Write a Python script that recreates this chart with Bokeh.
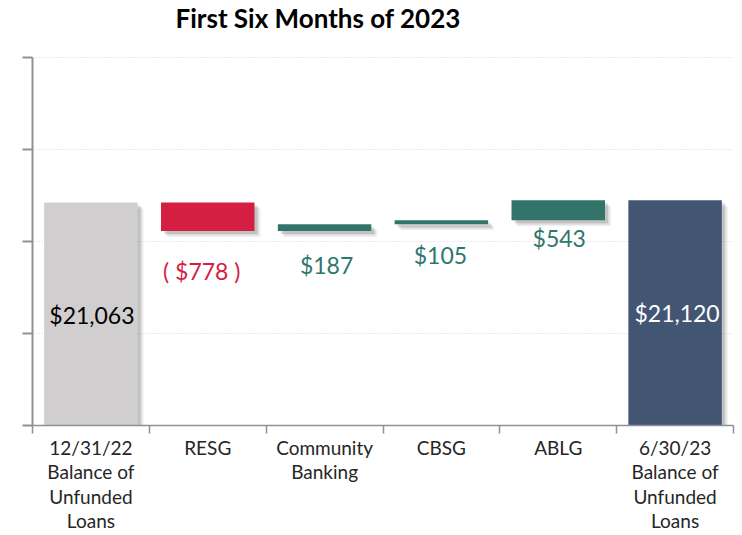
from bokeh.plotting import figure
from bokeh.models import ColumnDataSource, FixedTicker, Range1d
from bokeh.embed import file_html
from bokeh.resources import INLINE
from bokeh.core.properties import value

# ---- data ----
categories = ["12/31/22\nBalance of\nUnfunded\nLoans", "RESG", "Community\nBanking",
              "CBSG", "ABLG", "6/30/23\nBalance of\nUnfunded\nLoans"]
start_balance = 21063
changes = [-778, 187, 105, 543]
end_balance = 21120
value_labels = ["$21,063", "( $778 )", "$187", "$105", "$543", "$21,120"]
y_ticks = [15000, 17500, 20000, 22500, 25000]
title_text = "First Six Months of 2023"

# ---- styles ----
GRAY = "#D0CECE"
RED = "#D41E42"
GREEN = "#32736A"
NAVY = "#425674"
AXIS = "#8E9199"
FONT = "Lato"
label_colors = ["#000000", RED, "#2F766C", "#2F766C", "#2F766C", "#FFFFFF"]
label_y_off = [1, 40, 34, 31, 18, 0]
label_x_off = [1, -6, 2, -1, 1, 2]

y_min, y_max = y_ticks[0], y_ticks[-1]

# waterfall geometry from the values
bottoms, tops, colors = [], [], []
bottoms.append(0); tops.append(start_balance); colors.append(GRAY)
level = start_balance
for c in changes:
    new = level + c
    bottoms.append(min(level, new)); tops.append(max(level, new))
    colors.append(RED if c < 0 else GREEN)
    level = new
bottoms.append(0); tops.append(end_balance); colors.append(NAVY)

n = len(categories)
xc = [i + 0.5 for i in range(n)]
half = 0.4

# label anchor: visible centre for totals, bar bottom for floats
label_y = []
for i in range(n):
    if i == 0 or i == n - 1:
        label_y.append((max(bottoms[i], y_min) + tops[i]) / 2)
    else:
        label_y.append(bottoms[i])

W, H = 742, 535
ML, MR, MB = 32, 9, 110
PLOT_TOP = 57            # pixel row where the value axis ends (top of value area)
px_x = n / (W - ML - MR)
px_y = (y_max - y_min) / (H - MB - PLOT_TOP)
y_top = y_max + PLOT_TOP * px_y   # frame runs to the top of the canvas

p = figure(width=W, height=H, output_backend="svg", toolbar_location=None, title=None,
           x_range=Range1d(0, n), y_range=Range1d(y_min, y_top),
           min_border_left=ML, min_border_right=MR, min_border_top=0,
           min_border_bottom=MB)
p.outline_line_color = None
p.background_fill_color = "white"
p.border_fill_color = "white"

# shadows
for k, a in [(6, 0.06), (4.5, 0.08), (3, 0.12)]:
    p.quad(left=[x - half + k * px_x for x in xc], right=[x + half + k * px_x for x in xc],
           bottom=[b - k * px_y for b in bottoms], top=[t - k * px_y for t in tops],
           fill_color="#000000", fill_alpha=a, line_color=None)

src = ColumnDataSource(dict(left=[x - half for x in xc], right=[x + half for x in xc],
                            bottom=bottoms, top=tops, color=colors))
p.quad(left="left", right="right", bottom="bottom", top="top", source=src,
       fill_color="color", line_color=None)

lsrc = ColumnDataSource(dict(x=xc, y=label_y, text=value_labels, color=label_colors,
                             xo=label_x_off, yo=label_y_off))
p.text(x="x", y="y", text="text", source=lsrc, text_color="color",
       x_offset="xo", y_offset="yo",
       text_align="center", text_baseline="middle",
       text_font=value(FONT), text_font_size="23px")

# title (drawn in the upper part of the frame, above the value axis)
p.text(x=[0], y=[y_max], text=[title_text], x_offset=143, y_offset=-40,
       text_align="left", text_baseline="alphabetic",
       text_font=value(FONT), text_font_size="26px", text_font_style="bold",
       text_color="#000000")

# y axis
p.yaxis.ticker = FixedTicker(ticks=y_ticks, minor_ticks=[])
p.yaxis.bounds = (y_min, y_max)
p.yaxis.major_label_overrides = {t: "" for t in y_ticks}
p.yaxis.axis_line_color = AXIS
p.yaxis.axis_line_width = 2
p.yaxis.major_tick_line_color = AXIS
p.yaxis.major_tick_line_width = 2
p.yaxis.major_tick_out = 10
p.yaxis.major_tick_in = 0
p.yaxis.major_label_standoff = 0

# x axis
p.xaxis.ticker = FixedTicker(ticks=xc, minor_ticks=list(range(n + 1)))
p.xaxis.major_label_overrides = {x: c for x, c in zip(xc, categories)}
p.xaxis.axis_line_color = AXIS
p.xaxis.axis_line_width = 1.5
p.xaxis.major_tick_line_color = None
p.xaxis.major_tick_out = 0
p.xaxis.major_tick_in = 0
p.xaxis.minor_tick_line_color = AXIS
p.xaxis.minor_tick_line_width = 1.5
p.xaxis.minor_tick_out = 8
p.xaxis.minor_tick_in = 0
p.xaxis.major_label_standoff = 2
p.xaxis.major_label_text_font = FONT
p.xaxis.major_label_text_font_size = "19px"
p.xaxis.major_label_text_color = "#262626"
p.xaxis.major_label_text_line_height = 1.066

# grid
p.xgrid.visible = False
p.ygrid.ticker = FixedTicker(ticks=y_ticks[1:])
p.ygrid.grid_line_color = "#D6D6D6"
p.ygrid.grid_line_dash = "1 2"
p.ygrid.grid_line_width = 1

open("out.html", "w").write(file_html(p, INLINE))
